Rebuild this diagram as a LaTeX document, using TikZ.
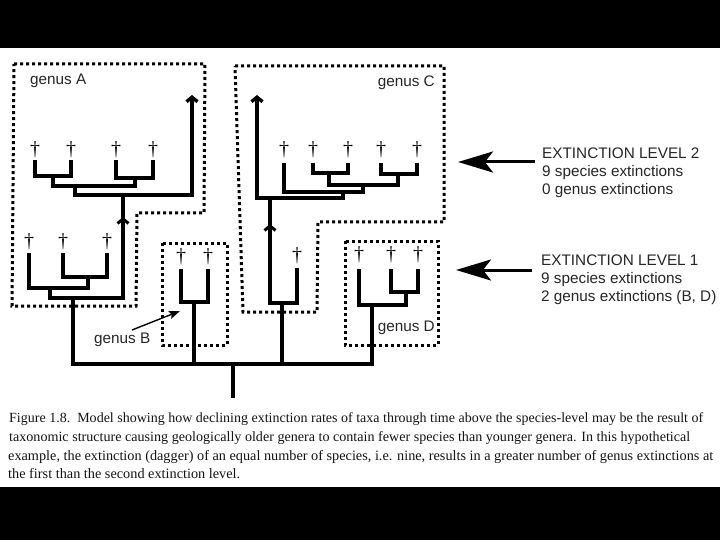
\documentclass[tikz,border=0pt]{standalone}
\usepackage{fontspec}
\setmainfont{Liberation Serif}
\newfontfamily\lsans{Liberation Sans}
\usetikzlibrary{arrows.meta}
\begin{document}
\begin{tikzpicture}[x=1pt,y=-1pt,
  branch/.style={line width=3.4pt, line join=miter},
  gbox/.style={line width=3pt, dash pattern=on 3pt off 3pt, line join=miter},
  dag/.style={font=\fontsize{20}{20}\selectfont, inner sep=0pt, text=black},
  lbl/.style={font=\lsans\fontsize{15.3}{18}\selectfont, inner sep=0pt, text=black!85, align=left},
  captxt/.style={font=\fontsize{13.5}{16}\selectfont, inner sep=0pt, text=black!92},
  tiparrow/.style={-{Straight Barb[length=4.5pt,width=11pt]}},
  midarrow/.style={line width=3pt, -{Straight Barb[length=4.5pt,width=11pt]}},
  bigarrow/.style={line width=3pt, -{Stealth[length=35pt,width=21pt,inset=8pt]}},
  smallarrow/.style={line width=1.4pt, -{Stealth[length=11pt,width=8pt,inset=2pt]}}
]
\useasboundingbox (0,0) rectangle (720,540);
\fill[white] (0,0) rectangle (720,540);
\fill[black] (0,0) rectangle (720,48);
\fill[black] (0,487) rectangle (720,540);

% ---------- genus boxes ----------
\draw[gbox] (14,64) -- (205,64) -- (204,213) -- (137,213) -- (136,306) -- (12,306) -- cycle;
\draw[gbox] (162,243) rectangle (227,345);
\draw[gbox] (235,66) -- (444,66) -- (444,222) -- (318,222) -- (317,312) -- (243,312) -- cycle;
\draw[gbox] (345,241) rectangle (438,345);

% ---------- coordinates ----------
% genus A, upper
\coordinate (a1) at (35,160); \coordinate (a2) at (71,160);
\coordinate (a3) at (116,160); \coordinate (a4) at (153,160);
\coordinate (j1) at (53,176); \coordinate (j2) at (135,178);
\coordinate (j3) at (75,186); \coordinate (j4) at (123,195);
\coordinate (topA) at (192,95);
% genus A, lower
\coordinate (b1) at (29,253); \coordinate (b2) at (63,253); \coordinate (b3) at (107,253);
\coordinate (k1) at (88,277); \coordinate (k2) at (50,288);
\coordinate (rA) at (73,298); \coordinate (kA) at (123,298);
% genus B
\coordinate (tB1) at (181,269); \coordinate (tB2) at (208,269); \coordinate (rB) at (194,302);
% genus C, upper
\coordinate (c1) at (284,163); \coordinate (c2) at (313,163); \coordinate (c3) at (348,163);
\coordinate (c4) at (381,163); \coordinate (c5) at (417,163);
\coordinate (m1) at (329,173); \coordinate (m2) at (398,174);
\coordinate (m3) at (363,185); \coordinate (m4) at (343,192);
\coordinate (m5) at (270,198); \coordinate (topC) at (257,95);
% genus C, lower
\coordinate (tC) at (297,268); \coordinate (n1) at (282,303);
% genus D
\coordinate (d1) at (359,269); \coordinate (d2) at (391,269); \coordinate (d3) at (418,269);
\coordinate (p1) at (406,292); \coordinate (rD) at (372,305);
% base
\coordinate (gB) at (194,364); \coordinate (gC) at (282,364);
\coordinate (gD) at (372,364); \coordinate (root) at (233,364);
\coordinate (rootbot) at (233,398);

% ---------- branches ----------
% genus A
\draw[branch] (a1) |- (j1) -| (a2);
\draw[branch] (a3) |- (j2) -| (a4);
\draw[branch] (j1) |- (j3) -| (j2);
\draw[branch, tiparrow] (j3) |- (j4) -| (topA);
\draw[branch] (b2) |- (k1) -| (b3);
\draw[branch] (b1) |- (k2) -| (k1);
\draw[branch] (k2) |- (rA) -- (kA) -- (j4);
\draw[midarrow] (123,226) -- (123,217);
% genus B
\draw[branch] (tB1) |- (rB) -| (tB2);
\draw[branch] (rB) -- (gB);
% genus C
\draw[branch] (c2) |- (m1) -| (c3);
\draw[branch] (c4) |- (m2) -| (c5);
\draw[branch] (m1) |- (m3) -| (m2);
\draw[branch] (c1) |- (m4) -| (m3);
\draw[branch, tiparrow] (m4) |- (m5) -| (topC);
\draw[branch] (m5) |- (n1) -| (tC);
\draw[branch] (n1) -- (gC);
\draw[midarrow] (270,233) -- (270,224);
% genus D
\draw[branch] (d2) |- (p1) -| (d3);
\draw[branch] (d1) |- (rD) -| (p1);
% base
\draw[branch] (rA) |- (gD) -- (rD);
\draw[branch] (root) -- (rootbot);

% ---------- daggers ----------
\foreach \t in {a1,a2,a3,a4} \node[dag] (x\t) at ([yshift=10pt]\t) {†};
\foreach \t in {b1,b2,b3} \node[dag] (x\t) at ([yshift=11pt]\t) {†};
\foreach \t in {tB1,tB2} \node[dag] (x\t) at ([yshift=12pt]\t) {†};
\foreach \t in {c1,c2,c3,c4,c5} \node[dag] (x\t) at ([yshift=13pt]\t) {†};
\node[dag] (xtC) at ([yshift=12pt]tC) {†};
\foreach \t in {d1,d2,d3} \node[dag] (x\t) at ([yshift=14pt]\t) {†};

% ---------- labels ----------
\node[lbl, anchor=west] (labA) at (30,81) {genus A};
\node[lbl, anchor=east] (labC) at (435,83) {genus C};
\node[lbl, anchor=west] (labB) at (94,340) {genus B};
\node[lbl, anchor=east] (labD) at (435,328) {genus D};
\coordinate (bt) at (132,330);
\coordinate (bh) at (180,311);
\draw[smallarrow] (bt) -- (bh);

% ---------- extinction levels ----------
\node[lbl, anchor=west] (lev2) at (542,173) {EXTINCTION LEVEL 2\\9 species extinctions\\0 genus extinctions};
\node[lbl, anchor=west] (lev1) at (541,280) {EXTINCTION LEVEL 1\\9 species extinctions\\2 genus extinctions (B, D)};
\coordinate (l2tail) at (535,162); \coordinate (l2tip) at (458,162);
\coordinate (l1tail) at (532,270); \coordinate (l1tip) at (456,270);
\draw[bigarrow] (l2tail) -- (l2tip);
\draw[bigarrow] (l1tail) -- (l1tip);

% ---------- caption ----------
\node[captxt, anchor=base west] (cap1) at (9,422) {\resizebox{694pt}{!}{Figure 1.8.\ \ Model showing how declining extinction rates of taxa through time above the species-level may be the result of}};
\node[captxt, anchor=base west] (cap2) at (9,441) {\resizebox{681pt}{!}{taxonomic structure causing geologically older genera to contain fewer species than younger genera. In this hypothetical}};
\node[captxt, anchor=base west] (cap3) at (8,460) {\resizebox{705pt}{!}{example, the extinction (dagger) of an equal number of species, i.e. nine, results in a greater number of genus extinctions at}};
\node[captxt, anchor=base west] (cap4) at (8,478) {\resizebox{232pt}{!}{the first than the second extinction level.}};
\end{tikzpicture}
\end{document}
